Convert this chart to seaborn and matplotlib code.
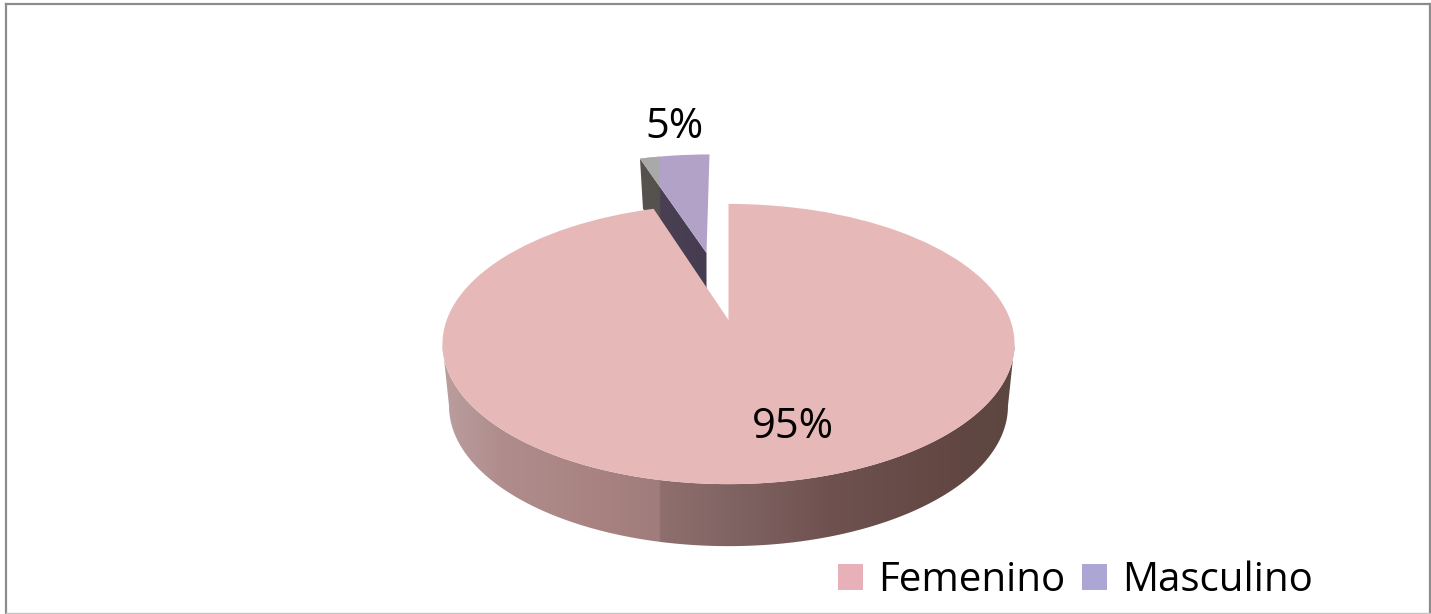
import numpy as np
import matplotlib
matplotlib.use('Agg')
import matplotlib.pyplot as plt
from matplotlib.colors import LinearSegmentedColormap
from matplotlib.patches import Patch, Polygon, Rectangle
from matplotlib.transforms import Transform
import seaborn as sns

# Data
categories = ['Femenino', 'Masculino']
values = [95, 5]
value_labels = ['95%', '5%']
explode = [0, 0.545]

# Colours
top_colors = sns.color_palette(['#e6b8b7', '#b3a2c7'])
legend_colors = sns.color_palette(['#e8b0b8', '#aca6d4'])

# Where the tilted pie sits in the picture, in pixels
cx, cy = 728.5, 320
scale_x, scale_y = 281.8, 136
tilt = 0.1714
depth = 62
rim_shrink = 0.977

sns.set_theme(style='white')
plt.rcParams['font.family'] = ['Open Sans', 'DejaVu Sans']


def project(x, y):
    w = 1 + tilt * y
    return cx + scale_x * x / w, cy - scale_y * y / w


class Tilt(Transform):
    # Puts the flat pie on its perspective plane
    input_dims = 2
    output_dims = 2

    def transform_non_affine(self, xy):
        px, py = project(xy[:, 0], xy[:, 1])
        return np.column_stack([px, py])


def shade(ax, points, xs, colors, zorder):
    # Horizontal gradient cut to the shape of a polygon
    stops = [(x - xs[0]) / (xs[-1] - xs[0]) for x in xs]
    cmap = LinearSegmentedColormap.from_list('side', list(zip(stops, colors)), N=1024)
    outline = Polygon(points, closed=True, fc='none', ec='none', zorder=zorder)
    ax.add_patch(outline)
    im = ax.imshow(np.linspace(0, 1, 1024).reshape(1, -1), cmap=cmap, aspect='auto',
                   extent=(xs[0], xs[-1], 614, 0), zorder=zorder)
    im.set_clip_path(outline)


fig = plt.figure(figsize=(14.31, 6.14), dpi=100)
fig.patch.set_facecolor('white')
ax = fig.add_axes([5.5 / 1431, 1 / 614, 1424.5 / 1431, 609.5 / 614])

wedges, _ = ax.pie(values, explode=explode, startangle=90, counterclock=False,
                   colors=top_colors, radius=1, wedgeprops={'linewidth': 0})
for wedge in wedges:
    wedge.set_transform(Tilt() + ax.transData)

# Front wall of the big slice, its lower rim a little narrower than the top
limit = np.degrees(np.arcsin(tilt))
theta = np.radians(np.linspace(180 + limit, 360 - limit, 300))
arc_x, arc_y = project(np.cos(theta), np.sin(theta))
rim_x = cx + (arc_x - cx) * rim_shrink
wall = np.concatenate([np.column_stack([arc_x, arc_y]),
                       np.column_stack([rim_x, arc_y + depth])[::-1]])
shade(ax, wall,
      [440, 500, 600, 659, 661, 730, 830, 950, 1020],
      ['#bb9f9f', '#b08d8d', '#a88281', '#a07c7c', '#8f6f6e', '#806463', '#6f5250', '#624743', '#5c4640'],
      zorder=1)

# Cut face of the pulled out slice
mid = np.radians(90 + 360 * values[1] / sum(values) / 2)
edge = np.radians(90 + 360 * values[1] / sum(values))
off_x, off_y = explode[1] * np.cos(mid), explode[1] * np.sin(mid)
ax_x, ax_y = project(np.array([off_x, off_x + np.cos(edge)]), np.array([off_y, off_y + np.sin(edge)]))
face = np.array([[ax_x[0], ax_y[0]], [ax_x[1], ax_y[1]],
                 [ax_x[1] + 3, ax_y[1] + 50], [ax_x[0], ax_y[0] + 50]])
shade(ax, face, [630, 659, 661, 720], ['#55524e', '#55524e', '#4a4054', '#453b50'], zorder=1)

wedges[1].set_zorder(2)
wedges[0].set_zorder(3)

# Washed out corner of the small slice
corner = Rectangle((630, 140), 30, 60, fc='#a9a9a9', ec='none', zorder=2.5)
ax.add_patch(corner)
corner.set_clip_path(wedges[1])

ax.set_aspect('auto')
ax.set_xlim(5.5, 1430)
ax.set_ylim(613, 3.5)
ax.set_xticks([])
ax.set_yticks([])
ax.set_frame_on(True)
ax.patch.set_visible(False)
for side in ['top', 'left', 'right']:
    ax.spines[side].set_color('#8c8c8c')
    ax.spines[side].set_linewidth(1.6)
ax.spines['bottom'].set_color('#c4c4c4')
ax.spines['bottom'].set_linewidth(1.0)

ax.text(793, 427, value_labels[0], fontsize=30, color='black', ha='center', va='center', zorder=5)
ax.text(674, 127, value_labels[1], fontsize=30, color='black', ha='center', va='center', zorder=5)

handles = [Patch(color=c, linewidth=0) for c in legend_colors]
ax.legend(handles, categories, ncol=2, frameon=False, loc='lower right',
          prop={'family': 'Open Sans', 'size': 29},
          bbox_to_anchor=(1313, 601), bbox_transform=ax.transData, borderpad=0, borderaxespad=0,
          handlelength=0.62, handleheight=0.62, handletextpad=0.37, columnspacing=0.42,
          labelcolor='black')

fig.savefig('out.png', dpi=100)
